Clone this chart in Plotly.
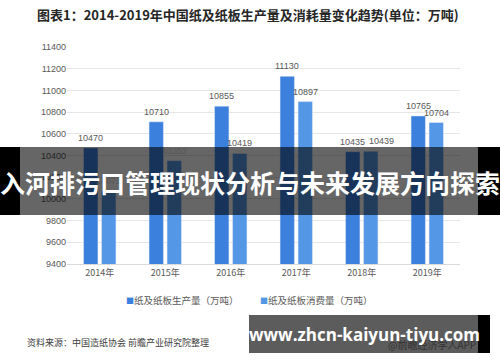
import plotly.graph_objects as go

years = ["2014年", "2015年", "2016年", "2017年", "2018年", "2019年"]
production = [10470, 10710, 10855, 11130, 10435, 10765]
consumption = [10071, 10352, 10419, 10897, 10439, 10704]
series_names = ["纸及纸板生产量（万吨）", "纸及纸板消费量（万吨）"]
y_ticks = [9400, 9600, 9800, 10000, 10200, 10400, 10600, 10800, 11000, 11200, 11400]

# styling (not data)
colors = ["#3C80DE", "#5597E7"]
label_extra_dx = [[0, 0, 0, 0, 0, 0], [0, 0, 0, 0, 11, 0]]

FONT = "Noto Sans CJK SC, Liberation Sans, sans-serif"
NUMFONT = "Liberation Sans, Arial, sans-serif"

def PX(x):
    return (x - 67) / 393

def PY(y):
    return (264 - y) / 217

fig = go.Figure()
for name, vals, col in zip(series_names, [production, consumption], colors):
    fig.add_trace(go.Bar(x=years, y=vals, name=name, marker_color=col,
                         showlegend=False, cliponaxis=False))

# data labels from the data arrays
for si, (vals, side) in enumerate(zip([production, consumption], [-9, 9])):
    for i, (yr, v) in enumerate(zip(years, vals)):
        fig.add_annotation(x=yr, y=v, xref="x", yref="y", text=str(v),
                           showarrow=False, yanchor="bottom", yshift=3,
                           xshift=side + label_extra_dx[si][i],
                           font=dict(size=9, color="#595959", family=NUMFONT))

fig.update_layout(
    width=500, height=362,
    margin=dict(l=67, r=40, t=47, b=98),
    paper_bgcolor="white", plot_bgcolor="white",
    font=dict(family=FONT, size=9, color="#595959"),
    barmode="group", bargap=0.45, bargroupgap=0.2,
    showlegend=False,
    xaxis=dict(showline=True, linecolor="#d9d9d9", ticks="",
               tickfont=dict(size=9, color="#595959", family=FONT)),
    yaxis=dict(range=[9400, 11400], tickvals=y_ticks, ticktext=[str(v) for v in y_ticks],
               showgrid=True, gridcolor="#e6e6e6",
               zeroline=False, showline=False,
               tickfont=dict(size=9, color="#595959", family=NUMFONT)),
)

# legend drawn as text items
for name, col, lx in zip(series_names, colors, [124, 258]):
    fig.add_annotation(text=f'<span style="color:{col};font-size:8px">■</span>{name}',
                       xref="paper", yref="paper", x=PX(lx), xanchor="left",
                       y=PY(300), yanchor="middle", showarrow=False,
                       font=dict(size=9.5, color="#595959", family=FONT))

fig.add_annotation(text="<b>图表1：2014-2019年中国纸及纸板生产量及消耗量变化趋势(单位：万吨)</b>",
                   xref="paper", yref="paper", x=PX(248), xanchor="center",
                   y=PY(15), yanchor="middle", showarrow=False,
                   font=dict(size=13, color="#262626", family=FONT))

# overlay banner (middle)
by0, by1 = PY(215), PY(147)
fig.add_shape(type="rect", xref="paper", yref="paper",
              x0=PX(0), x1=PX(20), y0=by0, y1=by1,
              layer="above", line_width=0, fillcolor="black")
fig.add_shape(type="rect", xref="paper", yref="paper",
              x0=PX(478), x1=PX(500), y0=by0, y1=by1,
              layer="above", line_width=0, fillcolor="black")
fig.add_shape(type="rect", xref="paper", yref="paper",
              x0=PX(20), x1=PX(478), y0=by0, y1=by1,
              layer="above", line_width=0, fillcolor="rgba(0,0,0,0.6)")
fig.add_annotation(text="<b>入河排污口管理现状分析与未来发展方向探索</b>",
                   xref="paper", yref="paper", x=PX(250), xanchor="center",
                   y=PY(182), yanchor="middle",
                   showarrow=False, font=dict(size=25, color="white", family=FONT))

# bottom source
fig.add_annotation(text="资料来源：中国造纸协会 前瞻产业研究院整理",
                   xref="paper", yref="paper", x=PX(25), xanchor="left",
                   y=PY(342), yanchor="middle", showarrow=False,
                   font=dict(size=9, color="#404040", family=FONT))

# bottom banner
fig.add_shape(type="rect", xref="paper", yref="paper",
              x0=PX(249), x1=PX(478), y0=PY(353), y1=PY(315),
              layer="above", line_width=0, fillcolor="#5c5c5c")
fig.add_shape(type="rect", xref="paper", yref="paper",
              x0=PX(478), x1=PX(490), y0=PY(353), y1=PY(315),
              layer="above", line_width=0, fillcolor="black")
fig.add_annotation(text="@前瞻经济学人APP",
                   xref="paper", yref="paper", x=PX(478), xanchor="right",
                   y=PY(344), yanchor="middle", showarrow=False,
                   font=dict(size=10, color="#333333", family=FONT))
fig.add_annotation(text="<b>www.zhcn-kaiyun-tiyu.com</b>",
                   xref="paper", yref="paper", x=PX(364), xanchor="center",
                   y=PY(334), yanchor="middle", showarrow=False,
                   font=dict(size=17, color="white", family="Open Sans, DejaVu Sans, sans-serif"))

fig.write_html("out.html")
